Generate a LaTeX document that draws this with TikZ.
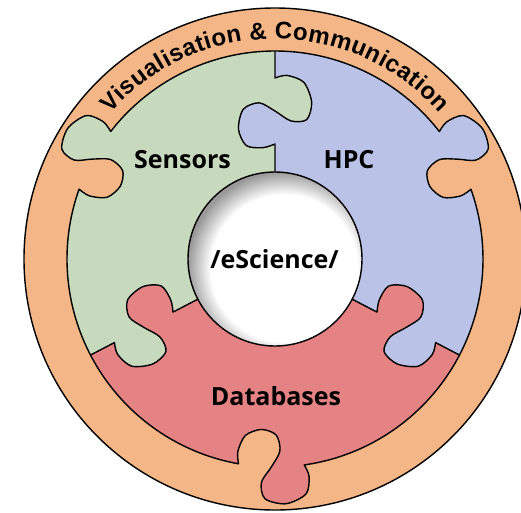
\documentclass[tikz,border=0pt]{standalone}
\usepackage{fontspec}
\setsansfont{Open Sans}
\newfontfamily\ringfont{Liberation Sans}
\usetikzlibrary{decorations.text}

\definecolor{ringorange}{RGB}{244,182,134}
\definecolor{sensgreen}{RGB}{200,218,190}
\definecolor{hpcblue}{RGB}{186,194,232}
\definecolor{dbred}{RGB}{228,130,132}

\pgfdeclareradialshading{holeshade}{\pgfpoint{0bp}{0bp}}{color(0bp)=(white); color(17.5bp)=(white); color(23bp)=(black!40); color(50bp)=(black!40)}

\newcommand\ringtext{\ringfont\bfseries\fontsize{24}{28}\selectfont}

% knob pair on a divider: #1 angle, #2 side
\newcommand\radS[2]{-- plot[smooth] coordinates {({#1}:115) ({#1+(#2)*6.14}:112) ({#1+(#2)*14.2}:117) ({#1+(#2)*15.7}:135) ({#1+(#2)*11.98}:153) ({#1+(#2)*5.84}:157) ({#1}:148) ({#1-(#2)*6.6}:139) ({#1-(#2)*12.82}:143) ({#1-(#2)*13.17}:161) ({#1-(#2)*9.28}:179) ({#1-(#2)*3.74}:184) ({#1}:181)}}
\newcommand\radB[2]{-- ({#1}:190) -- ({#1+(#2)*12.06}:190) -- ({#1+(#2)*15.49}:148) -- ({#1+(#2)*21.62}:106) -- ({#1}:106) -- cycle}
% knob pair on the ring: #1 start angle, #2 side
\newcommand\ringS[2]{-- plot[smooth] coordinates {({#1}:208) ({#1-0.83}:{208+(#2)*12}) ({#1+0.55}:{208+(#2)*29}) ({#1+5.51}:{208+(#2)*37}) ({#1+10.47}:{208+(#2)*32}) ({#1+11.57}:{208+(#2)*16}) ({#1+9.09}:208) ({#1+6.61}:{208-(#2)*16}) ({#1+7.71}:{208-(#2)*32}) ({#1+12.67}:{208-(#2)*37}) ({#1+17.63}:{208-(#2)*29}) ({#1+19.01}:{208-(#2)*12}) ({#1+18.18}:208)}}
\newcommand\ringB[2]{-- ({#1+20.66}:208) -- ({#1+20.66}:{208+(#2)*40}) -- ({#1+9.09}:{208+(#2)*40}) -- ({#1-2.48}:{208+(#2)*40}) -- ({#1-2.48}:208) -- cycle}

\begin{document}
\begin{tikzpicture}[scale=.03515,outline/.style={line width=1.4pt,line join=round},every node/.style={font=\sffamily\bfseries\fontsize{25}{30}\selectfont,anchor=base}]
\useasboundingbox (-275,-253) rectangle (246,259);
% ring and pieces
\fill[ringorange] (0,0) circle (251);
\fill[sensgreen] (0,0) -- (90:208) arc[start angle=90,end angle=207.5,radius=208] -- cycle;
\fill[dbred] (0,0) -- (207.5:208) arc[start angle=207.5,end angle=332.5,radius=208] -- cycle;
\fill[hpcblue] (0,0) -- (332.5:208) arc[start angle=332.5,end angle=450,radius=208] -- cycle;
% knobs
\fill[sensgreen] (90:115) \radS{90}{1} \radB{90}{1};
\fill[hpcblue] (90:115) \radS{90}{1} \radB{90}{-1};
\fill[sensgreen] (207.5:115) \radS{207.5}{-1} \radB{207.5}{-1};
\fill[dbred] (207.5:115) \radS{207.5}{-1} \radB{207.5}{1};
\fill[hpcblue] (332.5:115) \radS{332.5}{1} \radB{332.5}{1};
\fill[dbred] (332.5:115) \radS{332.5}{1} \radB{332.5}{-1};
\fill[ringorange] (142.2:208) \ringS{142.2}{1} \ringB{142.2}{1};
\fill[sensgreen] (142.2:208) \ringS{142.2}{1} \ringB{142.2}{-1};
\fill[ringorange] (259.9:208) \ringS{259.9}{-1} \ringB{259.9}{1};
\fill[dbred] (259.9:208) \ringS{259.9}{-1} \ringB{259.9}{-1};
\fill[ringorange] (19.6:208) \ringS{19.6}{-1} \ringB{19.6}{1};
\fill[hpcblue] (19.6:208) \ringS{19.6}{-1} \ringB{19.6}{-1};
% outlines
\draw[outline] (90:87) \radS{90}{1} -- (90:208);
\draw[outline] (207.5:87) \radS{207.5}{-1} -- (207.5:208);
\draw[outline] (332.5:87) \radS{332.5}{1} -- (332.5:208);
\draw[outline] (37.78:208) arc[start angle=37.78,end angle=142.2,radius=208] \ringS{142.2}{1} arc[start angle=160.38,end angle=259.9,radius=208] \ringS{259.9}{-1} arc[start angle=278.08,end angle=379.6,radius=208] \ringS{19.6}{-1} -- cycle;
\draw[outline] (0,0) circle (251);
% hole
\begin{scope}
  \clip (0,0) circle (87);
  \shade[shading=holeshade] (9,-9) circle (105);
\end{scope}
\draw[outline] (0,0) circle (87);
% texts
\path[decorate,decoration={text along path,text align={fit to path},text={|\ringtext|Visualisation {\&} Communication}}] (138.5:220) arc[start angle=138.5,end angle=41.5,radius=220];
\node (sensors) at (-92.5,91) {Sensors};
\node (hpc) at (74,91) {HPC};
\node (escience) at (-0.5,-9) {/eScience/};
\node (databases) at (1,-146) {Databases};
\end{tikzpicture}
\end{document}
